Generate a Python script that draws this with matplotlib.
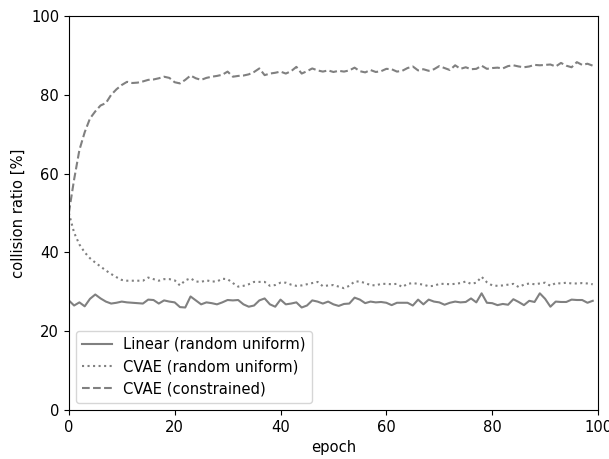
import numpy as np
import matplotlib
matplotlib.use('Agg')
import matplotlib.pyplot as plt

# collision ratio per epoch
linear_uniform = [27.8, 26.5, 27.3, 26.3, 28.2, 29.3, 28.3, 27.5, 27.0, 27.2,
                  27.5, 27.3, 27.2, 27.1, 27.0, 28.0, 27.9, 27.0, 27.8, 27.5,
                  27.3, 26.1, 26.0, 28.8, 27.8, 26.8, 27.3, 27.1, 26.8, 27.3,
                  27.9, 27.8, 27.9, 26.8, 26.2, 26.5, 27.8, 28.3, 26.8, 26.2,
                  28.0, 26.8, 27.0, 27.3, 26.0, 26.5, 27.8, 27.5, 27.0, 27.5,
                  26.8, 26.4, 26.9, 27.0, 28.5, 28.0, 27.1, 27.5, 27.3, 27.4,
                  27.2, 26.6, 27.2, 27.2, 27.2, 26.5, 28.0, 26.8, 28.0, 27.5,
                  27.3, 26.7, 27.2, 27.5, 27.3, 27.4, 28.3, 27.3, 29.6, 27.2,
                  27.1, 26.6, 26.9, 26.7, 28.1, 27.4, 26.6, 27.7, 27.4, 29.6,
                  28.2, 26.2, 27.5, 27.4, 27.4, 28.0, 27.9, 27.9, 27.2, 27.7]

cvae_uniform = [50.0, 45.0, 42.0, 40.0, 38.5, 37.4, 36.4, 35.4, 34.5, 33.7,
                33.0, 32.8, 32.8, 32.8, 32.8, 33.6, 33.2, 32.8, 33.2, 33.2,
                32.9, 31.6, 32.9, 33.4, 32.6, 32.5, 32.9, 32.6, 32.6, 33.3,
                33.2, 32.2, 31.3, 31.5, 31.9, 32.5, 32.5, 32.5, 31.5, 31.7,
                32.3, 32.3, 31.8, 31.5, 31.6, 31.9, 32.2, 32.5, 31.4, 31.6,
                31.7, 31.3, 30.9, 31.5, 32.6, 32.6, 32.2, 31.7, 31.6, 32.0,
                32.0, 31.9, 32.0, 31.2, 32.0, 32.2, 32.0, 31.8, 31.4, 31.5,
                32.0, 32.0, 31.9, 32.0, 32.2, 32.6, 32.0, 32.3, 33.8, 32.4,
                31.6, 31.5, 31.6, 31.8, 32.0, 31.2, 31.8, 32.1, 31.9, 32.1,
                32.3, 31.5, 32.2, 32.1, 32.3, 32.1, 32.1, 32.2, 32.1, 31.9]

cvae_constrained = [50.0, 58.5, 66.0, 70.5, 74.0, 75.8, 77.3, 77.9, 80.0, 81.4,
                    82.5, 83.3, 83.0, 83.1, 83.4, 83.8, 83.9, 84.2, 84.6, 84.3,
                    83.2, 82.9, 83.8, 84.9, 84.2, 83.8, 84.3, 84.6, 84.8, 85.1,
                    85.9, 84.6, 84.8, 84.9, 85.2, 85.8, 86.7, 85.0, 85.4, 85.6,
                    85.9, 85.4, 86.0, 87.1, 85.4, 86.0, 86.7, 86.2, 85.9, 86.2,
                    85.8, 86.1, 85.9, 86.2, 86.9, 86.0, 85.7, 86.3, 85.8, 86.0,
                    86.6, 86.5, 85.9, 86.1, 86.8, 87.2, 86.2, 86.5, 86.1, 86.5,
                    87.3, 86.8, 86.3, 87.5, 86.6, 87.0, 86.5, 86.6, 87.4, 86.6,
                    86.8, 86.9, 86.7, 87.3, 87.5, 87.2, 87.0, 87.2, 87.6, 87.5,
                    87.6, 87.7, 87.2, 88.1, 87.4, 87.0, 88.3, 87.6, 87.9, 87.4]

epochs = np.arange(len(linear_uniform))

plt.rcParams['font.size'] = 10.6

fig = plt.figure(figsize=(6.09, 4.59), dpi=100)
ax = fig.add_subplot(111)
fig.subplots_adjust(left=0.113, right=0.982, top=0.965, bottom=0.107)

ax.plot(epochs, linear_uniform, color='gray', linestyle='-', label='Linear (random uniform)')
ax.plot(epochs, cvae_uniform, color='gray', linestyle=':', label='CVAE (random uniform)')
ax.plot(epochs, cvae_constrained, color='gray', linestyle='--', label='CVAE (constrained)')

ax.set_xlim(0, 100)
ax.set_ylim(0, 100)
ax.set_xlabel('epoch')
ax.set_ylabel('collision ratio [%]')
ax.legend(loc='lower left')

plt.savefig('out.png', dpi=100)
